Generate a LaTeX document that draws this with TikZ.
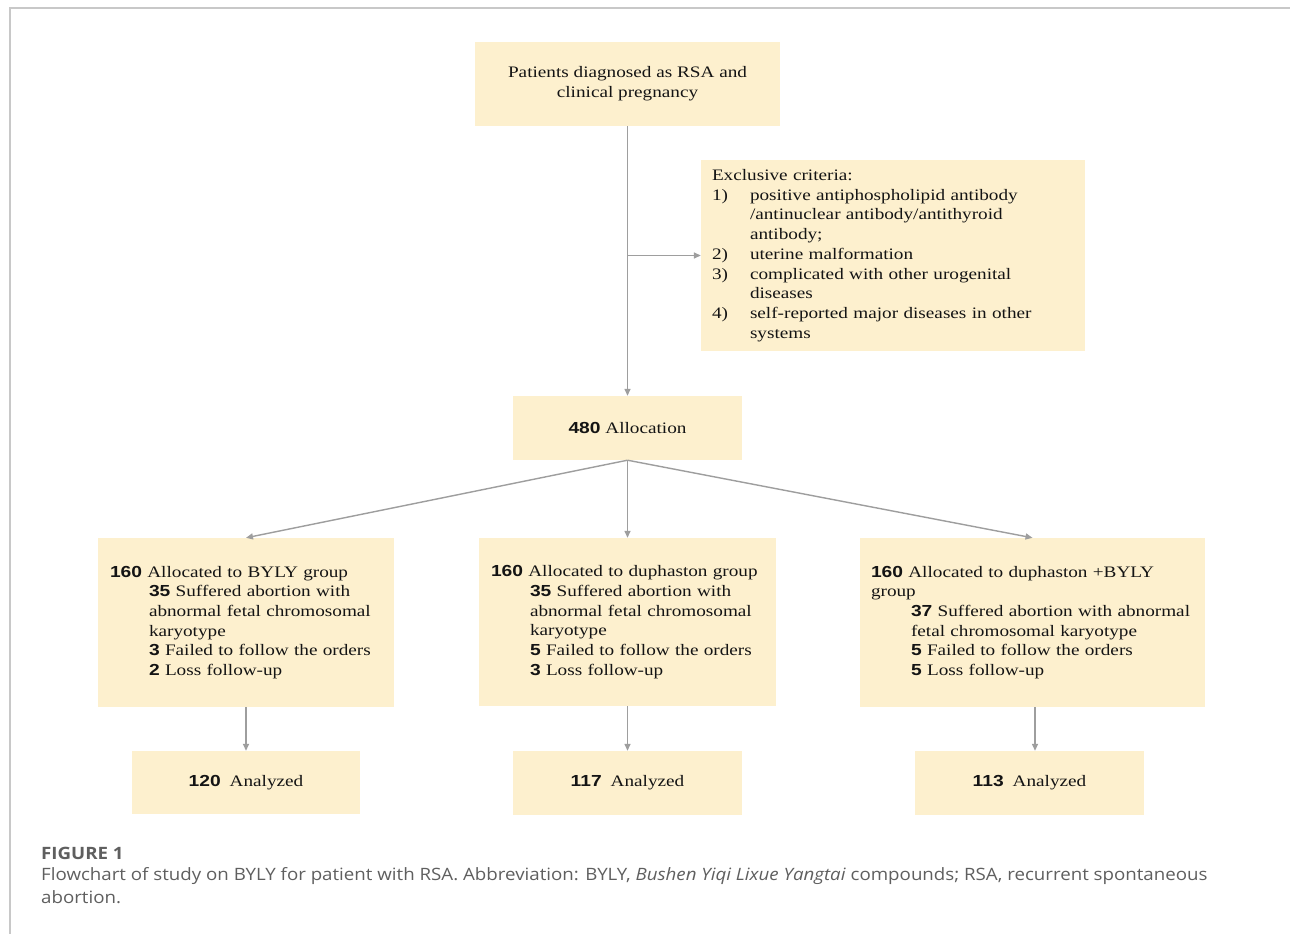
\documentclass[tikz,border=0pt]{standalone}
\usepackage{fontspec}
\setmainfont{Liberation Serif}[FakeStretch=1.2]
\newfontfamily\numfont{Liberation Sans}[FakeStretch=1.2]
\newfontfamily\capfont{Open Sans}[FakeStretch=1.1]
\usetikzlibrary{arrows.meta}
\definecolor{boxfill}{RGB}{253,240,206}
\definecolor{arrowgray}{RGB}{158,158,158}
\definecolor{framegray}{RGB}{200,200,200}
\definecolor{captext}{RGB}{95,95,95}
\definecolor{maintext}{RGB}{20,20,20}
\newcommand\bnum[1]{{\numfont\bfseries #1}}
\newcommand\ind{\hspace*{39pt}}
\newcommand\itm[1]{\makebox[38pt][l]{#1}}
\tikzset{
  box/.style={fill=boxfill, inner sep=0pt, text=maintext,
    font=\fontsize{16}{19.7}\selectfont},
  conn/.style={draw=arrowgray, line width=1.4pt,
    -{Triangle[length=7pt,width=6pt]}},
}
\begin{document}
\begin{tikzpicture}[x=1pt,y=-1pt]
\useasboundingbox (0,0) rectangle (1290,934);
\fill[white] (0,0) rectangle (1290,934);
\draw[framegray, line width=1.5pt] (10,934) -- (10,8) -- (1290,8);

\node[box, minimum width=305pt, minimum height=84pt, align=center] (start) at (627.5,84)
  {\rule{0pt}{6pt}Patients diagnosed as RSA and\\clinical pregnancy};

\node[box, minimum width=384pt, minimum height=191pt, text width=362pt, align=left] (excl) at (893,255.5)
  {Exclusive criteria:\\
   \itm{1)}positive antiphospholipid antibody\\
   \hspace*{38pt}/antinuclear antibody/antithyroid\\
   \hspace*{38pt}antibody;\\
   \itm{2)}uterine malformation\\
   \itm{3)}complicated with other urogenital\\
   \hspace*{38pt}diseases\\
   \itm{4)}self-reported major diseases in other\\
   \hspace*{38pt}systems};

\node[box, minimum width=229pt, minimum height=64pt] (alloc) at (627.5,428)
  {\bnum{480} Allocation};

\node[box, minimum width=296pt, minimum height=169pt, text width=272pt, align=left] (gL) at (246,622.5)
  {\bnum{160} Allocated to BYLY group\\
   \ind\bnum{35} Suffered abortion with\\
   \ind abnormal fetal chromosomal\\
   \ind karyotype\\
   \ind\bnum{3} Failed to follow the orders\\
   \ind\bnum{2} Loss follow-up};

\node[box, minimum width=297pt, minimum height=168pt, text width=273pt, align=left] (gM) at (627.5,622)
  {\bnum{160} Allocated to duphaston group\\
   \ind\bnum{35} Suffered abortion with\\
   \ind abnormal fetal chromosomal\\
   \ind karyotype\\
   \ind\bnum{5} Failed to follow the orders\\
   \ind\bnum{3} Loss follow-up};

\node[box, minimum width=345pt, minimum height=169pt, text width=323pt, align=left] (gR) at (1032.5,622.5)
  {\bnum{160} Allocated to duphaston +BYLY\\
   group\\
   \hspace*{40pt}\bnum{37} Suffered abortion with abnormal\\
   \hspace*{40pt}fetal chromosomal karyotype\\
   \hspace*{40pt}\bnum{5} Failed to follow the orders\\
   \hspace*{40pt}\bnum{5} Loss follow-up};

\node[box, minimum width=228pt, minimum height=63pt] (aL) at (246,782.5)
  {\bnum{120}\hspace{9pt}Analyzed};
\node[box, minimum width=229pt, minimum height=64pt] (aM) at (627.5,783)
  {\bnum{117}\hspace{9pt}Analyzed};
\node[box, minimum width=229pt, minimum height=64pt] (aR) at (1029.5,783)
  {\bnum{113}\hspace{9pt}Analyzed};

\coordinate (branch) at (627.5,255.5);
\draw[draw=arrowgray, line width=1.4pt] (start.south) -- (branch);
\draw[conn] (branch) -- (alloc.north);
\draw[conn] (branch) -- (excl.west);

\draw[conn] (alloc.south) -- (gL.north);
\draw[conn] (alloc.south) -- (gM.north);
\draw[conn] (alloc.south) -- (gR.north);

\draw[conn] (gL.south) -- (gL.south |- aL.north);
\draw[conn] (gM.south) -- (gM.south |- aM.north);
\draw[conn] ([xshift=2.5pt]gR.south) -- ([xshift=2.5pt]gR.south |- aR.north);

\node[anchor=west, inner sep=0pt, text=captext, font=\capfont\bfseries\fontsize{17}{20}\selectfont] (figlab) at (41,853) {FIGURE 1};
\node[anchor=north west, inner sep=0pt, text=captext, align=left, font=\capfont\fontsize{17}{23.5}\selectfont] (cap) at (41,867)
  {Flowchart of study on BYLY for patient with RSA. Abbreviation: BYLY, \textit{Bushen Yiqi Lixue Yangtai} compounds; RSA, recurrent spontaneous\\
   abortion.};
\end{tikzpicture}
\end{document}
